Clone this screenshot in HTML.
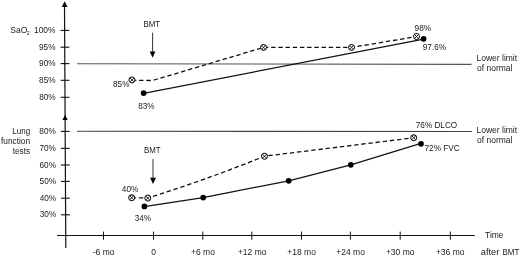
<!DOCTYPE html>
<html><head><meta charset="utf-8">
<style>
html,body{margin:0;padding:0;background:#fff;}
body{width:520px;height:257px;overflow:hidden;}
svg{display:block;will-change:transform;}
text{font-family:"Liberation Sans",sans-serif;font-size:8.5px;fill:#1a1a1a;}
</style></head>
<body>
<svg width="520" height="257" viewBox="0 0 520 257">
<!-- vertical axis -->
<line x1="64.5" y1="5" x2="65.8" y2="248" stroke="#111" stroke-width="1.2"/>
<polygon points="64.6,1.3 61.8,7 67.5,7" fill="#000"/>
<polygon points="65.1,115 62.4,120 67.7,120" fill="#000"/>
<!-- horizontal axis -->
<line x1="57" y1="235.5" x2="474.7" y2="235.5" stroke="#111" stroke-width="1.2"/>
<!-- y ticks -->
<g stroke="#111" stroke-width="1.1">
<line x1="60.50" y1="30.4" x2="69.30" y2="30.4"/>
<line x1="60.55" y1="47.2" x2="69.35" y2="47.2"/>
<line x1="60.61" y1="63.6" x2="69.41" y2="63.6"/>
<line x1="60.66" y1="80.3" x2="69.46" y2="80.3"/>
<line x1="60.71" y1="97.3" x2="69.51" y2="97.3"/>
<line x1="60.82" y1="131.4" x2="69.62" y2="131.4"/>
<line x1="60.88" y1="148.4" x2="69.68" y2="148.4"/>
<line x1="60.93" y1="165" x2="69.73" y2="165"/>
<line x1="60.99" y1="181.4" x2="69.79" y2="181.4"/>
<line x1="61.04" y1="198.2" x2="69.84" y2="198.2"/>
<line x1="61.09" y1="214.8" x2="69.89" y2="214.8"/>
</g>
<!-- x ticks -->
<g stroke="#111" stroke-width="1">
<line x1="103.5" y1="231.6" x2="103.5" y2="239.7"/>
<line x1="153.5" y1="231.6" x2="153.5" y2="239.7"/>
<line x1="202.8" y1="231.6" x2="202.8" y2="239.7"/>
<line x1="251.8" y1="231.6" x2="251.8" y2="239.7"/>
<line x1="301.5" y1="231.6" x2="301.5" y2="239.7"/>
<line x1="350.4" y1="231.6" x2="350.4" y2="239.7"/>
<line x1="400.2" y1="231.6" x2="400.2" y2="239.7"/>
<line x1="450.4" y1="231.6" x2="450.4" y2="239.7"/>
</g>
<!-- lower limit lines -->
<line x1="77" y1="63.7" x2="471.5" y2="64.4" stroke="#555" stroke-width="1.1"/>
<line x1="77" y1="131.3" x2="472" y2="131.5" stroke="#444" stroke-width="1.1"/>

<!-- y labels -->
<text x="10.3" y="32.8">SaO</text><text x="26.8" y="35.1" style="font-size:5.6px" textLength="2.9" lengthAdjust="spacingAndGlyphs">2</text>
<g text-anchor="end">
<text x="55.4" y="33" textLength="21.4" lengthAdjust="spacingAndGlyphs">100%</text>
<text x="55.48" y="50.1" textLength="16.5" lengthAdjust="spacingAndGlyphs">95%</text>
<text x="55.55" y="66.4" textLength="16.5" lengthAdjust="spacingAndGlyphs">90%</text>
<text x="55.62" y="83.0" textLength="16.5" lengthAdjust="spacingAndGlyphs">85%</text>
<text x="55.7" y="100.0" textLength="16.5" lengthAdjust="spacingAndGlyphs">80%</text>
<text x="55.86" y="134.2" textLength="16.5" lengthAdjust="spacingAndGlyphs">80%</text>
<text x="55.93" y="151.2" textLength="16.5" lengthAdjust="spacingAndGlyphs">70%</text>
<text x="56.01" y="168.1" textLength="16.5" lengthAdjust="spacingAndGlyphs">60%</text>
<text x="56.08" y="184.2" textLength="16.5" lengthAdjust="spacingAndGlyphs">50%</text>
<text x="56.15" y="200.7" textLength="16.5" lengthAdjust="spacingAndGlyphs">40%</text>
<text x="56.23" y="217.3" textLength="16.5" lengthAdjust="spacingAndGlyphs">30%</text>
<text x="30.1" y="134.3" textLength="17.8" lengthAdjust="spacingAndGlyphs">Lung</text>
<text x="30.1" y="143.5" textLength="29.1" lengthAdjust="spacingAndGlyphs">function</text>
<text x="30.1" y="153.6" textLength="17.4" lengthAdjust="spacingAndGlyphs">tests</text>
</g>
<!-- x labels -->
<g text-anchor="middle">
<text x="103.6" y="254.8">-6 mo</text>
<text x="153.6" y="254.8">0</text>
<text x="203" y="254.8">+6 mo</text>
<text x="252.2" y="254.8">+12 mo</text>
<text x="301.6" y="254.8">+18 mo</text>
<text x="350.6" y="254.8">+24 mo</text>
<text x="400.2" y="254.8">+30 mo</text>
<text x="450.2" y="254.8">+36 mo</text>
</g>
<text x="485" y="237.8">Time</text>
<text x="480.8" y="254.7" textLength="18.5" lengthAdjust="spacingAndGlyphs">after</text><text x="502.5" y="254.7" textLength="16.8" lengthAdjust="spacingAndGlyphs">BMT</text>
<text x="476.5" y="61.3">Lower limit</text>
<text x="477" y="71.4">of normal</text>
<text x="476.5" y="132.6">Lower limit</text>
<text x="477" y="142.6">of normal</text>

<!-- BMT arrows -->
<text x="143.5" y="26.9" textLength="16.6" lengthAdjust="spacingAndGlyphs">BMT</text>
<line x1="152.6" y1="32.7" x2="152.6" y2="52" stroke="#333" stroke-width="1"/>
<polygon points="149.7,51.6 155.4,51.6 152.6,57.8" fill="#000"/>
<text x="144" y="153.3" textLength="16.6" lengthAdjust="spacingAndGlyphs">BMT</text>
<line x1="153" y1="159" x2="153" y2="178" stroke="#333" stroke-width="1"/>
<polygon points="150.1,177.8 156,177.8 153,184" fill="#000"/>

<!-- top chart -->
<path d="M131.9,80.2 L149,80.5 Q153,80.5 156,79.5 L263.6,47.4 L351.6,47.4 L416.5,36.6" fill="none" stroke="#111" stroke-width="1.3" stroke-dasharray="4.4 2.8"/>
<line x1="143.6" y1="93.3" x2="423.6" y2="39.1" stroke="#111" stroke-width="1.2"/>
<!-- bottom chart -->
<path d="M131.7,197.8 L147.8,198 Q206.2,179.8 264.5,156.2 L413.7,137.8" fill="none" stroke="#111" stroke-width="1.3" stroke-dasharray="4.4 2.8"/>
<polyline points="144.1,206.6 203.2,197.6 288.7,180.8 350.8,164.8 420.9,143.4" fill="none" stroke="#111" stroke-width="1.2"/>

<!-- markers -->
<defs>
<g id="oc"><circle r="2.95" fill="#fff" stroke="#1a1a1a" stroke-width="1.05"/><path d="M-1.9,-1.9L1.9,1.9M-1.9,1.9L1.9,-1.9" stroke="#1a1a1a" stroke-width="1"/></g>
</defs>
<use href="#oc" x="131.9" y="79.9"/>
<use href="#oc" x="263.6" y="47.4"/>
<use href="#oc" x="351.6" y="47.4"/>
<use href="#oc" x="416.5" y="36.5"/>
<use href="#oc" x="131.7" y="197.8"/>
<use href="#oc" x="147.8" y="198"/>
<use href="#oc" x="264.5" y="156.2"/>
<use href="#oc" x="413.7" y="137.8"/>
<g fill="#000">
<circle cx="143.6" cy="93.1" r="2.85"/>
<circle cx="423.6" cy="38.8" r="2.85"/>
<circle cx="144.4" cy="206.4" r="2.85"/>
<circle cx="203.2" cy="197.6" r="2.85"/>
<circle cx="288.7" cy="180.8" r="2.85"/>
<circle cx="350.8" cy="164.8" r="2.85"/>
<circle cx="421" cy="143.8" r="2.85"/>
</g>
<!-- point labels -->
<text x="113.1" y="87.4" textLength="16.3" lengthAdjust="spacingAndGlyphs">85%</text>
<text x="138.2" y="108.6" textLength="16.3" lengthAdjust="spacingAndGlyphs">83%</text>
<text x="414.6" y="31.1" textLength="16.5" lengthAdjust="spacingAndGlyphs">98%</text>
<text x="422.8" y="50" textLength="23.2" lengthAdjust="spacingAndGlyphs">97.6%</text>
<text x="121.8" y="192.2" textLength="16.5" lengthAdjust="spacingAndGlyphs">40%</text>
<text x="134.7" y="221.4" textLength="16.5" lengthAdjust="spacingAndGlyphs">34%</text>
<text x="415.8" y="128.1" textLength="41.4" lengthAdjust="spacingAndGlyphs">76% DLCO</text>
<text x="424.5" y="150.6" textLength="35.2" lengthAdjust="spacingAndGlyphs">72% FVC</text>
</svg>
</body></html>
